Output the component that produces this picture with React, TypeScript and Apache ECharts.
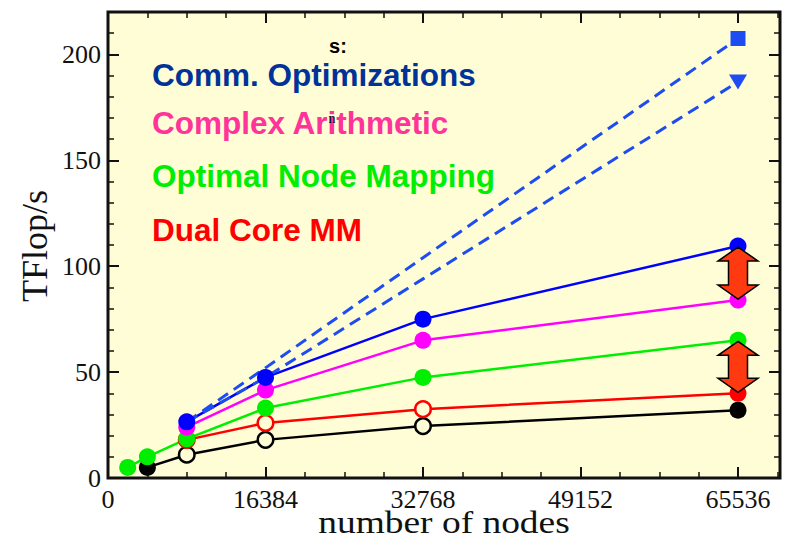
import React, { useEffect, useRef } from 'react';
import * as echarts from 'echarts';

// ---- data ----
const nodeCounts = [2048, 4096, 8192, 16384, 32768, 65536];
const baseline = [null, 5, 11, 18, 24.5, 32];
const dualCoreMM = [null, null, 18, 26, 32.5, 40];
const optimalMapping = [5, 10, 18.5, 33, 47.5, 65];
const complexArith = [null, null, 24, 41.5, 65, 84];
const commOpt = [null, null, 26.5, 47.5, 75, 109.5];
const projUpper = [null, null, 26.5, 52, 104, 207.5];
const projLower = [null, null, 26.5, 47.5, 94, 187];
const baselineOpen = [false, false, true, true, true, false];
const dualOpen = [false, false, true, true, true, false];
const xTicks = [0, 16384, 32768, 49152, 65536];
const yTicks = [0, 50, 100, 150, 200];
const legendLabels = ['Comm. Optimizations', 'Complex Arithmetic', 'Optimal Node Mapping', 'Dual Core MM'];
const legendColors = ['#003399', '#ff3399', '#00ee00', '#ff0000'];
const xName = 'number of nodes';
const yName = 'TFlop/s';

const BG = '#fffdd6';
const SERIF = '"Liberation Serif", "Times New Roman", serif';
const SANS = '"Liberation Sans", Arial, sans-serif';

function pts(vals: (number | null)[], color: string, open: boolean[] | null) {
  const out: any[] = [];
  vals.forEach((v, i) => {
    if (v == null) return;
    const isOpen = open ? open[i] : false;
    out.push({
      value: [nodeCounts[i], v],
      symbolSize: isOpen ? 15.5 : 17,
      itemStyle: isOpen ? { color: BG, borderColor: color, borderWidth: 2.5 } : { color, borderWidth: 0 },
    });
  });
  return out;
}

function solid(name: string, vals: (number | null)[], color: string, open: boolean[] | null) {
  return {
    type: 'line',
    name,
    data: pts(vals, color, open),
    symbol: 'circle',
    lineStyle: { color, width: 2.5 },
    itemStyle: { color },
    xAxisIndex: 0,
    yAxisIndex: 0,
  };
}

function dashed(name: string, vals: (number | null)[], endSymbol: string, endSize: any, rotate: number) {
  const color = '#1d4cf2';
  const data: any[] = [];
  const last = vals.length - 1;
  vals.forEach((v, i) => {
    if (v == null) return;
    if (i === last) data.push({ value: [nodeCounts[i], v], symbol: endSymbol, symbolSize: endSize, symbolRotate: rotate });
    else data.push({ value: [nodeCounts[i], v], symbol: 'none' });
  });
  return {
    type: 'line',
    name,
    data,
    symbol: endSymbol,
    lineStyle: { color, width: 3, type: [12, 7] },
    itemStyle: { color },
    xAxisIndex: 0,
    yAxisIndex: 0,
  };
}

const lastOf = (a: (number | null)[]) => a[a.length - 1] as number;
const arrows = [
  [nodeCounts[nodeCounts.length - 1], lastOf(commOpt), lastOf(complexArith)],
  [nodeCounts[nodeCounts.length - 1], lastOf(optimalMapping), lastOf(dualCoreMM)],
];

export default function App() {
  const ref = useRef<HTMLDivElement>(null);
  useEffect(() => {
    if (!ref.current) return;
    const chart = echarts.init(ref.current, null, { renderer: 'svg' });
    const xBase: any = {
      type: 'value', min: 0, max: 69905, gridIndex: 0,
      axisLine: { show: false, onZero: false }, splitLine: { show: false },
    };
    const yBase: any = {
      type: 'value', min: 0, max: 220, gridIndex: 0,
      axisLine: { show: false, onZero: false }, splitLine: { show: false },
    };
    const majorTick = { show: true, inside: true, length: 11, lineStyle: { color: '#111', width: 2 } };
    const minorTick = { show: true, inside: true, length: 6, lineStyle: { color: '#111', width: 1.5 } };
    const labelStyle = { fontSize: 26, fontFamily: SERIF, color: '#111' };

    const legendY = [75, 123, 176, 230];
    const graphic: any[] = legendLabels.map((t, i) => ({
      type: 'text', x: 152, y: legendY[i], z: 20,
      style: { text: t, fill: legendColors[i], font: `bold 31.5px ${SANS}`, align: 'left', verticalAlign: 'middle' },
    }));
    graphic.push({
      type: 'text', x: 338, y: 46, z: 20,
      style: { text: 's:', fill: '#000', font: `bold 20px ${SANS}`, align: 'center', verticalAlign: 'middle' },
    });
    graphic.push({
      type: 'text', x: 332, y: 118, z: 20,
      style: { text: 'n', fill: '#000', font: `14px ${SERIF}`, align: 'center', verticalAlign: 'middle' },
    });
    graphic.push({
      type: 'text', x: 35, y: 246, rotation: Math.PI / 2, z: 20,
      style: { text: yName, fill: '#111', font: `36px ${SERIF}`, align: 'center', verticalAlign: 'middle' },
    });
    graphic.push({
      type: 'text', x: 444, y: 522, scaleX: 1.17, z: 20,
      style: { text: xName, fill: '#111', font: `32px ${SERIF}`, align: 'center', verticalAlign: 'middle' },
    });

    chart.setOption({
      animation: false,
      backgroundColor: '#ffffff',
      grid: {
        left: 108, right: 7, top: 12, bottom: 62,
        show: true, backgroundColor: BG, borderColor: '#111', borderWidth: 3,
        containLabel: false, outerBoundsMode: 'none',
      },
      xAxis: [
        {
          ...xBase, position: 'bottom', interval: 16384, axisTick: majorTick,
          axisLabel: { ...labelStyle, margin: 8, formatter: (v: number) => (xTicks.includes(v) ? String(v) : '') },
        },
        { ...xBase, position: 'bottom', interval: 4096, axisTick: minorTick, axisLabel: { show: false } },
        { ...xBase, position: 'top', interval: 16384, axisTick: majorTick, axisLabel: { show: false } },
        { ...xBase, position: 'top', interval: 4096, axisTick: minorTick, axisLabel: { show: false } },
      ],
      yAxis: [
        {
          ...yBase, position: 'left', interval: 50, axisTick: majorTick,
          axisLabel: { ...labelStyle, margin: 7, formatter: (v: number) => (yTicks.includes(v) ? String(v) : '') },
        },
        { ...yBase, position: 'left', interval: 10, axisTick: minorTick, axisLabel: { show: false } },
        { ...yBase, position: 'right', interval: 50, axisTick: majorTick, axisLabel: { show: false } },
        { ...yBase, position: 'right', interval: 10, axisTick: minorTick, axisLabel: { show: false } },
      ],
      series: [
        solid('Baseline', baseline, '#000000', baselineOpen),
        solid('Dual Core MM', dualCoreMM, '#ff0000', dualOpen),
        solid('Optimal Node Mapping', optimalMapping, '#00ee00', null),
        solid('Complex Arithmetic', complexArith, '#ff00ff', null),
        solid('Comm. Optimizations', commOpt, '#0000ff', null),
        dashed('Projection A', projUpper, 'rect', 15, 0),
        dashed('Projection B', projLower, 'triangle', [18, 15], 180),
        {
          type: 'custom',
          name: 'Gains',
          data: arrows,
          clip: false,
          z: 10,
          xAxisIndex: 0,
          yAxisIndex: 0,
          renderItem: (params: any, api: any) => {
            const p1 = api.coord([api.value(0), api.value(1)]);
            const p2 = api.coord([api.value(0), api.value(2)]);
            const cx = p1[0];
            const t = p1[1] + 1;
            const b = p2[1] - 1;
            const hw = 20, sw = 9.5, hh = 14;
            return {
              type: 'polygon',
              shape: {
                points: [
                  [cx, t], [cx + hw, t + hh], [cx + sw, t + hh], [cx + sw, b - hh], [cx + hw, b - hh],
                  [cx, b], [cx - hw, b - hh], [cx - sw, b - hh], [cx - sw, t + hh], [cx - hw, t + hh],
                ],
              },
              style: { fill: '#ff3a10', stroke: '#000', lineWidth: 1.5 },
            };
          },
        },
      ],
      graphic,
    });
    return () => chart.dispose();
  }, []);
  return <div ref={ref} style={{ position: 'fixed', left: 0, top: 0, width: 787, height: 540 }} />;
}
